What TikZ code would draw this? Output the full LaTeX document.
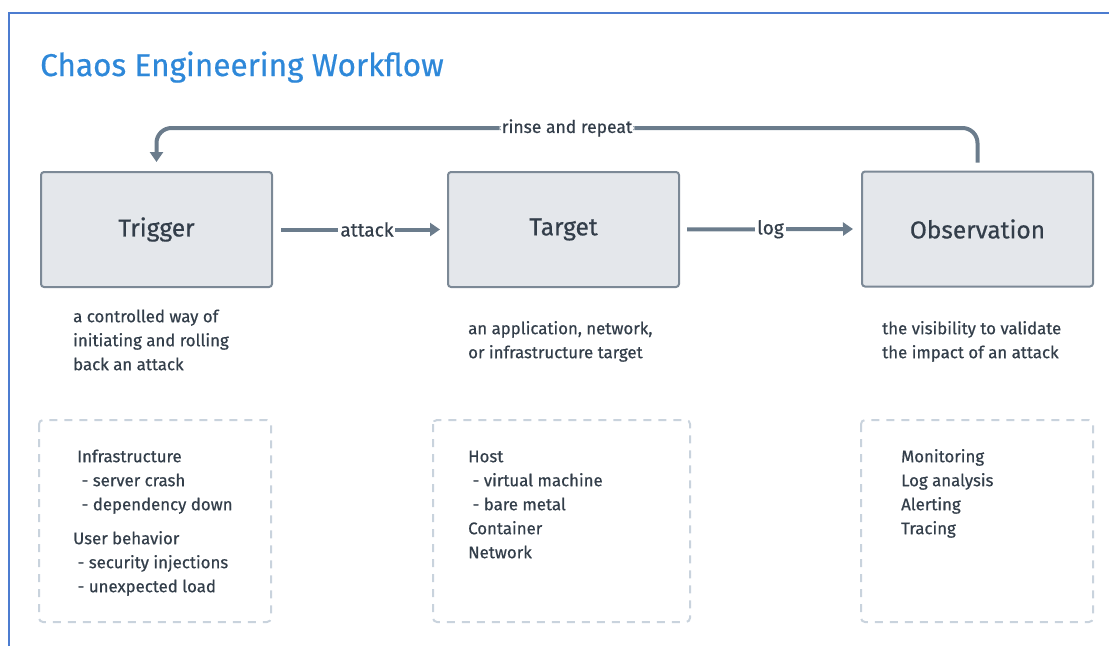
\documentclass[tikz,border=0pt]{standalone}
\usepackage{fontspec}
\setmainfont{Fira Sans}[FakeBold=0.6]
\usetikzlibrary{arrows.meta}

\definecolor{titleblue}{HTML}{2E88D9}
\definecolor{frameblue}{HTML}{4C7CD0}
\definecolor{ink}{HTML}{333E4A}
\definecolor{boxfill}{HTML}{E4E7EB}
\definecolor{boxline}{HTML}{7C8996}
\definecolor{flow}{HTML}{6B7C8C}
\definecolor{dashline}{HTML}{C9D3DD}

\tikzset{
  stage/.style={draw=boxline, line width=2pt, fill=boxfill, rounded corners=3pt,
    minimum width=231pt, minimum height=115pt, inner sep=0pt, text=ink,
    font=\fontsize{24.5}{28}\selectfont},
  flowarrow/.style={draw=flow, line width=4pt,
    -{Triangle[length=10pt,width=13pt]}},
  flowlabel/.style={fill=white, text=ink, inner sep=2pt,
    font=\fontsize{17.5}{20}\selectfont},
  biglabel/.style={flowlabel, font=\fontsize{19}{22}\selectfont},
  desc/.style={anchor=north west, inner sep=0pt, align=left, text=ink,
    font=\fontsize{16.8}{24}\selectfont},
  listbox/.style={draw=dashline, line width=2pt, dash pattern=on 8pt off 7pt,
    rounded corners=4pt},
}

\begin{document}
\begin{tikzpicture}[x=1pt, y=-1pt]
  \useasboundingbox (0,0) rectangle (1109,646);

  % page frame
  \draw[frameblue, line width=2pt] (9,646) -- (9,13) -- (1109,13);

  % heading
  \node[anchor=base west, inner sep=0pt, text=titleblue,
        font=\fontsize{31.5}{36}\selectfont] (title) at (40,76) {Chaos Engineering Workflow};

  % the three stages
  \node[stage] (trig) at (156.5,229.5) {Trigger};
  \node[stage] (targ) at (563.5,229.5) {Target};
  \node[stage] (obs)  at (977.5,229) {Observation};

  % flow between stages
  \draw[flowarrow, shorten <=8pt, shorten >=7pt] (trig.east) -- node[biglabel, pos=0.54] (attacklbl) {attack} (targ.west);
  \draw[flowarrow, shorten <=7pt, shorten >=8pt] (targ.east) -- node[biglabel, pos=0.5] (loglbl) {log} (obs.west);

  % feedback loop
  \draw[flowarrow, rounded corners=15pt]
    ([yshift=8pt]obs.north) -- (obs.north |- 0,128)
    -- node[flowlabel] (rinselbl) {rinse and repeat} (trig.north |- 0,128)
    -- ([yshift=9pt]trig.north);

  % stage descriptions
  \node[desc] (trigdesc) at (73,{322-16.8}) {\strut a controlled way of\\initiating and rolling\\back an attack};
  \node[desc] (targdesc) at (468,{334-16.8}) {\strut an application, network,\\or infrastructure target};
  \node[desc] (obsdesc)  at (882,{334-16.8}) {\strut the visibility to validate\\the impact of an attack};

  % example lists
  \draw[listbox] (39,420) rectangle (271,622);
  \draw[listbox] (433,420) rectangle (690,622);
  \draw[listbox] (861,420) rectangle (1093,622);

  \node[desc] (triglist1) at (77,{462-16.8}) {\strut Infrastructure\\\ - server crash\\\ - dependency down};
  \node[desc] (triglist2) at (73,{544-16.8}) {\strut User behavior\\\ - security injections\\\ - unexpected load};
  \node[desc] (targlist) at (468,{462-16.8}) {\strut Host\\\ - virtual machine\\\ - bare metal\\Container\\Network};
  \node[desc] (obslist) at (901,{462-16.8}) {\strut Monitoring\\Log analysis\\Alerting\\Tracing};
\end{tikzpicture}
\end{document}
